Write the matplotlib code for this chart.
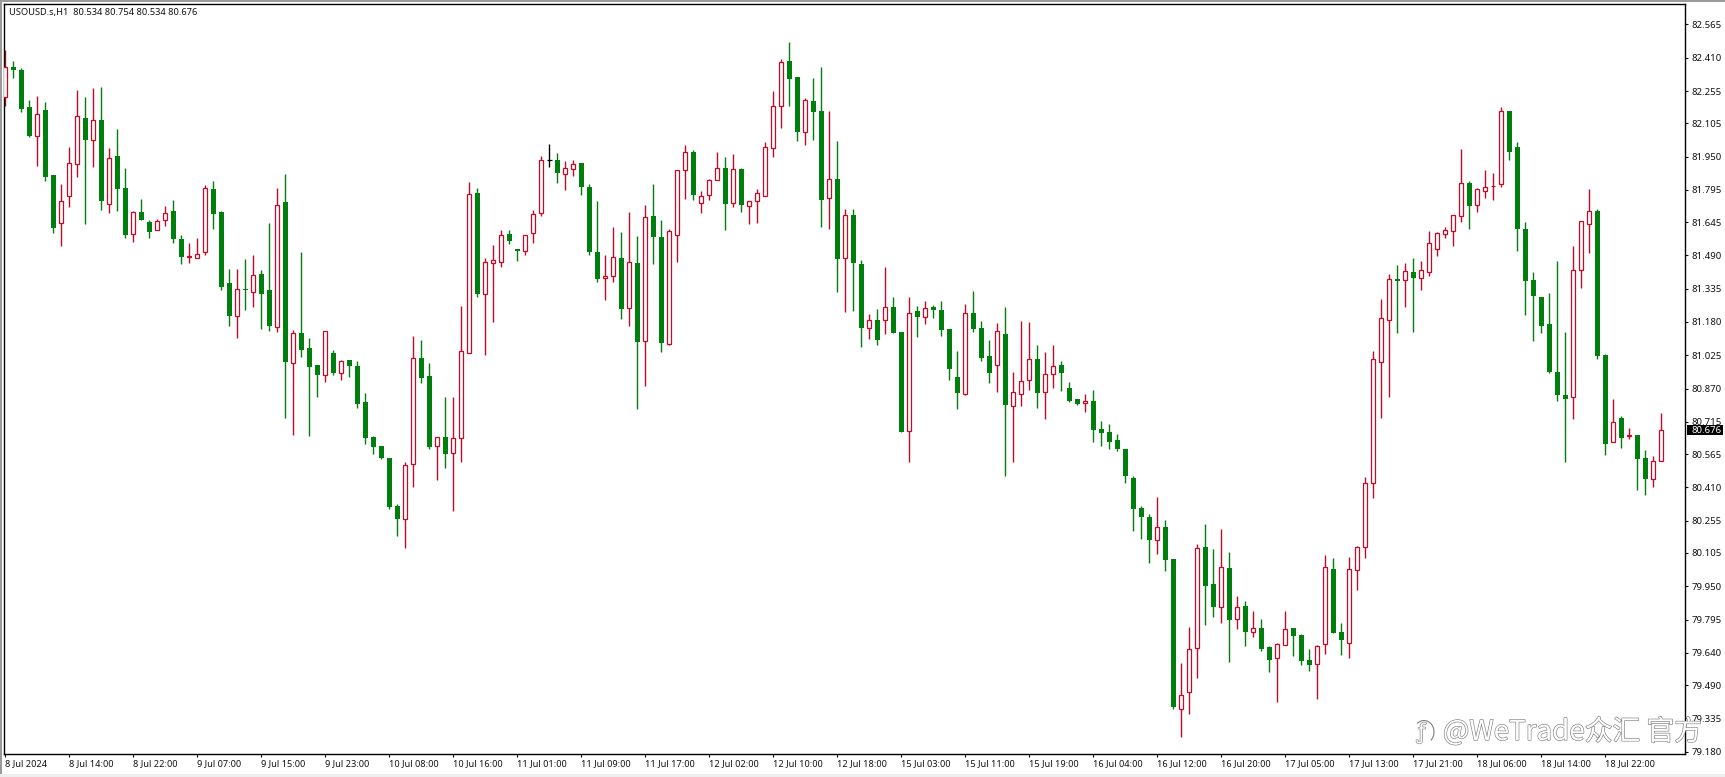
# plot.py
# USOUSD H1 candlestick chart in the MT4 look
import matplotlib
matplotlib.use('Agg')
import matplotlib.pyplot as plt
import matplotlib.patheffects as pe
from matplotlib.patches import Rectangle, Arc

plt.rcParams['font.family'] = ['Noto Sans', 'DejaVu Sans']

opens = [82.229, 82.369, 82.353, 82.181, 82.047, 82.167, 81.864, 81.639, 81.768, 81.914,
         82.130, 82.029, 82.120, 81.731, 81.953, 81.802, 81.588, 81.692, 81.645, 81.607,
         81.653, 81.697, 81.566, 81.484, 81.478, 81.507, 81.797, 81.692, 81.360, 81.209,
         81.333, 81.321, 81.403, 81.329, 81.158, 81.740, 80.991, 81.129, 81.059, 80.980,
         80.935, 81.036, 80.941, 81.003, 80.975, 80.808, 80.645, 80.603, 80.547, 80.323,
         80.261, 80.517, 81.011, 80.929, 80.604, 80.645, 80.572, 80.642, 81.037, 81.781,
         81.312, 81.456, 81.461, 81.590, 81.520, 81.508, 81.593, 81.685, 81.933, 81.934,
         81.871, 81.894, 81.920, 81.809, 81.504, 81.383, 81.396, 81.476, 81.247, 81.453,
         81.093, 81.672, 81.574, 81.079, 81.587, 81.885, 81.970, 81.736, 81.770, 81.843,
         81.896, 81.736, 81.892, 81.722, 81.745, 81.764, 81.991, 82.184, 82.393, 82.320,
         82.066, 82.208, 82.162, 81.755, 81.844, 81.479, 81.676, 81.448, 81.153, 81.189,
         81.187, 81.248, 81.133, 80.674, 81.231, 81.201, 81.249, 81.235, 81.147, 80.923,
         80.847, 81.221, 81.152, 81.021, 80.978, 81.124, 80.790, 80.847, 80.908, 81.006,
         80.855, 80.936, 80.978, 80.871, 80.821, 80.801, 80.812, 80.681, 80.667, 80.630,
         80.589, 80.454, 80.314, 80.272, 80.167, 80.226, 80.077, 79.380, 79.459, 79.661,
         80.131, 79.959, 79.855, 80.033, 79.796, 79.856, 79.738, 79.754, 79.667, 79.614,
         79.678, 79.754, 79.721, 79.605, 79.586, 79.682, 80.028, 79.735, 79.687, 80.027,
         80.131, 80.432, 80.995, 81.191, 81.378, 81.377, 81.411, 81.386, 81.414, 81.521,
         81.591, 81.605, 81.675, 81.825, 81.726, 81.791, 81.811, 81.822, 82.162, 81.995,
         81.613, 81.374, 81.296, 81.170, 80.947, 80.840, 80.832, 81.423, 81.638, 81.695,
         81.026, 80.623, 80.731, 80.649, 80.652, 80.547, 80.447, 80.534]

highs = [82.446, 82.395, 82.361, 82.213, 82.232, 82.204, 81.864, 81.822, 81.996, 82.260,
         82.226, 82.269, 82.274, 81.988, 82.077, 81.897, 81.695, 81.751, 81.655, 81.658,
         81.720, 81.748, 81.585, 81.549, 81.571, 81.816, 81.836, 81.695, 81.428, 81.425,
         81.475, 81.492, 81.422, 81.642, 81.802, 81.869, 81.143, 81.506, 81.104, 80.980,
         81.137, 81.050, 81.003, 81.003, 81.000, 80.848, 80.651, 80.603, 80.548, 80.331,
         80.530, 81.115, 81.096, 80.988, 80.646, 80.829, 80.829, 81.255, 81.830, 81.802,
         81.477, 81.539, 81.608, 81.608, 81.520, 81.587, 81.700, 81.953, 82.007, 81.965,
         81.930, 81.934, 81.922, 81.821, 81.742, 81.490, 81.622, 81.599, 81.691, 81.579,
         81.723, 81.823, 81.655, 81.612, 81.886, 82.004, 81.981, 81.790, 81.844, 81.970,
         81.947, 81.962, 81.896, 81.745, 81.798, 82.017, 82.255, 82.402, 82.482, 82.320,
         82.221, 82.314, 82.368, 82.162, 82.023, 81.706, 81.706, 81.468, 81.217, 81.238,
         81.436, 81.294, 81.134, 81.294, 81.254, 81.277, 81.257, 81.277, 81.147, 81.044,
         81.262, 81.324, 81.183, 81.096, 81.173, 81.251, 80.947, 81.184, 81.179, 81.071,
         81.040, 81.071, 80.998, 80.900, 80.821, 80.844, 80.863, 80.717, 80.703, 80.658,
         80.589, 80.461, 80.323, 80.285, 80.364, 80.257, 80.077, 79.592, 79.762, 80.146,
         80.238, 80.122, 80.215, 80.108, 79.904, 79.881, 79.834, 79.797, 79.670, 79.684,
         79.834, 79.754, 79.726, 79.656, 79.676, 80.095, 80.080, 79.777, 80.087, 80.136,
         80.457, 81.045, 81.287, 81.403, 81.445, 81.454, 81.479, 81.464, 81.604, 81.600,
         81.621, 81.676, 81.985, 81.836, 81.802, 81.887, 81.872, 82.179, 82.162, 82.016,
         81.644, 81.413, 81.296, 81.316, 81.464, 81.132, 81.534, 81.649, 81.799, 81.704,
         81.029, 80.820, 80.742, 80.685, 80.655, 80.584, 80.554, 80.755]

lows = [82.185, 82.314, 82.159, 82.041, 81.908, 81.836, 81.596, 81.534, 81.717, 81.856,
        81.636, 81.903, 81.701, 81.689, 81.697, 81.572, 81.554, 81.655, 81.571, 81.607,
        81.627, 81.549, 81.450, 81.456, 81.478, 81.492, 81.611, 81.329, 81.161, 81.105,
        81.236, 81.251, 81.147, 81.138, 81.135, 80.732, 80.654, 81.016, 80.649, 80.832,
        80.901, 80.933, 80.910, 80.923, 80.781, 80.612, 80.566, 80.542, 80.311, 80.184,
        80.128, 80.413, 80.898, 80.590, 80.445, 80.502, 80.302, 80.528, 81.037, 81.297,
        81.028, 81.180, 81.438, 81.545, 81.464, 81.492, 81.548, 81.675, 81.903, 81.829,
        81.795, 81.861, 81.771, 81.494, 81.368, 81.282, 81.368, 81.196, 81.163, 80.775,
        80.882, 81.450, 81.042, 81.073, 81.459, 81.753, 81.748, 81.689, 81.750, 81.843,
        81.608, 81.715, 81.692, 81.636, 81.641, 81.764, 81.949, 82.084, 82.185, 82.024,
        82.004, 82.027, 81.623, 81.612, 81.320, 81.228, 81.232, 81.065, 81.102, 81.074,
        81.124, 81.130, 80.669, 80.529, 81.111, 81.172, 81.198, 81.116, 80.909, 80.774,
        80.841, 81.134, 80.998, 80.897, 80.855, 80.461, 80.529, 80.788, 80.863, 80.779,
        80.728, 80.872, 80.860, 80.809, 80.793, 80.760, 80.621, 80.602, 80.588, 80.580,
        80.432, 80.207, 80.170, 80.058, 80.101, 80.021, 79.378, 79.249, 79.355, 79.524,
        79.769, 79.805, 79.780, 79.597, 79.752, 79.671, 79.713, 79.650, 79.550, 79.411,
        79.675, 79.625, 79.583, 79.555, 79.423, 79.634, 79.734, 79.630, 79.617, 79.932,
        80.081, 80.360, 80.733, 80.832, 81.127, 81.248, 81.132, 81.329, 81.396, 81.487,
        81.571, 81.534, 81.645, 81.613, 81.692, 81.759, 81.748, 81.807, 81.934, 81.510,
        81.211, 81.091, 81.129, 80.944, 80.812, 80.530, 80.728, 81.340, 81.500, 81.009,
        80.562, 80.623, 80.593, 80.637, 80.398, 80.376, 80.413, 80.534]

closes = [82.369, 82.353, 82.171, 82.046, 82.147, 81.856, 81.619, 81.742, 81.919, 82.137,
          82.029, 82.119, 81.745, 81.942, 81.801, 81.585, 81.692, 81.655, 81.599, 81.648,
          81.686, 81.568, 81.484, 81.487, 81.495, 81.802, 81.684, 81.344, 81.209, 81.332,
          81.330, 81.397, 81.312, 81.163, 81.723, 80.995, 81.127, 81.051, 80.972, 80.935,
          81.137, 80.943, 80.999, 80.975, 80.798, 80.642, 80.598, 80.548, 80.319, 80.264,
          80.513, 81.011, 80.919, 80.598, 80.643, 80.567, 80.639, 81.044, 81.775, 81.312,
          81.458, 81.467, 81.584, 81.557, 81.508, 81.584, 81.681, 81.933, 81.933, 81.875,
          81.896, 81.914, 81.810, 81.506, 81.382, 81.393, 81.481, 81.242, 81.458, 81.088,
          81.667, 81.577, 81.084, 81.602, 81.886, 81.973, 81.773, 81.765, 81.840, 81.896,
          81.731, 81.891, 81.726, 81.745, 81.779, 81.993, 82.184, 82.388, 82.312, 82.066,
          82.212, 82.159, 81.749, 81.844, 81.475, 81.676, 81.456, 81.153, 81.187, 81.097,
          81.248, 81.130, 80.669, 81.224, 81.204, 81.243, 81.235, 81.144, 80.962, 80.850,
          81.220, 81.147, 81.013, 80.943, 81.136, 80.795, 80.852, 80.903, 81.006, 80.850,
          80.940, 80.973, 80.943, 80.813, 80.799, 80.810, 80.678, 80.664, 80.622, 80.588,
          80.465, 80.311, 80.274, 80.167, 80.224, 80.073, 79.387, 79.442, 79.656, 80.126,
          79.952, 79.855, 80.038, 79.794, 79.852, 79.738, 79.754, 79.658, 79.608, 79.682,
          79.752, 79.720, 79.602, 79.585, 79.673, 80.038, 79.734, 79.699, 80.028, 80.131,
          80.429, 81.006, 81.197, 81.378, 81.372, 81.416, 81.386, 81.420, 81.546, 81.593,
          81.607, 81.676, 81.825, 81.721, 81.797, 81.807, 81.815, 82.161, 81.971, 81.614,
          81.372, 81.302, 81.161, 80.945, 80.841, 80.821, 81.420, 81.649, 81.695, 81.021,
          80.613, 80.713, 80.641, 80.652, 80.543, 80.450, 80.531, 80.676]

price_ticks = [82.565, 82.410, 82.255, 82.105, 81.950, 81.795, 81.645, 81.490, 81.335, 81.180,
               81.025, 80.870, 80.715, 80.565, 80.410, 80.255, 80.105, 79.950, 79.795, 79.640,
               79.490, 79.335, 79.180]

time_labels = ['8 Jul 2024', '8 Jul 14:00', '8 Jul 22:00', '9 Jul 07:00', '9 Jul 15:00', '9 Jul 23:00',
               '10 Jul 08:00', '10 Jul 16:00', '11 Jul 01:00', '11 Jul 09:00', '11 Jul 17:00',
               '12 Jul 02:00', '12 Jul 10:00', '12 Jul 18:00', '15 Jul 03:00', '15 Jul 11:00',
               '15 Jul 19:00', '16 Jul 04:00', '16 Jul 12:00', '16 Jul 20:00', '17 Jul 05:00',
               '17 Jul 13:00', '17 Jul 21:00', '18 Jul 06:00', '18 Jul 14:00', '18 Jul 22:00']
bars_per_label = 8

header = 'USOUSD.s,H1  80.534 80.754 80.534 80.676'
last_price = 80.676

GREEN = '#007f0e'
RED = '#c40a26'
W, H = 1725, 777

fig = plt.figure(figsize=(W / 100, H / 100), dpi=100, facecolor='white')
ax = fig.add_axes([4 / W, (H - 754) / H, 1681 / W, 750 / H])

# one candle at a time, wick first so the hollow bodies cover it
for i in range(len(closes)):
    if closes[i] > opens[i]:
        ax.vlines(i, lows[i], highs[i], color=RED, lw=1.0, zorder=2)
        ax.bar(i, closes[i] - opens[i], bottom=opens[i], width=0.47, facecolor='white',
               edgecolor=RED, linewidth=0.9, zorder=3)
    elif closes[i] < opens[i]:
        ax.vlines(i, lows[i], highs[i], color=GREEN, lw=1.0, zorder=2)
        ax.bar(i, opens[i] - closes[i], bottom=closes[i], width=0.62, color=GREEN,
               linewidth=0, zorder=3)
    else:
        ax.vlines(i, lows[i], highs[i], color='black', lw=1.0, zorder=2)
        ax.hlines(opens[i], i - 0.3, i + 0.3, color='black', lw=0.9, zorder=3)

ax.set_xlim(-0.17, 209.96)
ax.set_ylim(79.169, 82.660)

ax.yaxis.tick_right()
ax.set_yticks(price_ticks)
ax.set_yticklabels(['%.3f' % p for p in price_ticks])
ax.set_xticks(range(0, len(time_labels) * bars_per_label, bars_per_label))
ax.set_xticklabels(time_labels, ha='left')
ax.tick_params(axis='y', length=2.5, width=0.8, pad=2.5, labelsize=6.9, colors='#111111')
ax.tick_params(axis='x', length=2.5, width=0.8, pad=1.0, labelsize=6.6, colors='#111111')
for side in ax.spines:
    ax.spines[side].set_linewidth(1.0)
    ax.spines[side].set_color('black')

# last price tag on the right axis
ax.add_patch(Rectangle((1.0012, last_price - 0.0235), 0.0215, 0.047, transform=ax.get_yaxis_transform(),
                       facecolor='black', edgecolor='none', clip_on=False, zorder=5))
ax.text(1.0040, last_price, '%.3f' % last_price, transform=ax.get_yaxis_transform(), color='white',
        fontsize=6.9, va='center', ha='left', zorder=6)

fig.text(9 / W, 1 - 13 / H, header, fontsize=6.7, color='#111111', va='center', ha='left')

# window frame of the terminal
fig.add_artist(Rectangle((0, 1 - 2 / H), 1, 2 / H, transform=fig.transFigure, facecolor='#9a9a9a', edgecolor='none'))
fig.add_artist(Rectangle((0, 0), 2 / W, 1, transform=fig.transFigure, facecolor='#9a9a9a', edgecolor='none'))
fig.add_artist(Rectangle((0, 0), 1, 3 / H, transform=fig.transFigure, facecolor='#eeeeee', edgecolor='none'))

# watermark, white letters with a thin grey edge
edge = [pe.withStroke(linewidth=0.9, foreground='#7f7f7f')]
fig.text(1443 / W, 1 - 732 / H, '@WeTrade众汇 官方', fontsize=20, color='white', va='center', ha='left',
         family=['Noto Sans CJK SC', 'DejaVu Sans'], path_effects=edge, zorder=10)
fig.text(1421 / W, 1 - 733 / H, 'ƒ', fontsize=15, color='white', va='center', ha='center',
         path_effects=edge, zorder=10)
fig.add_artist(Arc((1424 / W, 1 - 732 / H), 20 / W, 23 / H, theta1=-70, theta2=110, color='#7f7f7f', lw=0.8,
                   transform=fig.transFigure, zorder=10))

fig.savefig('out.png', dpi=100)
